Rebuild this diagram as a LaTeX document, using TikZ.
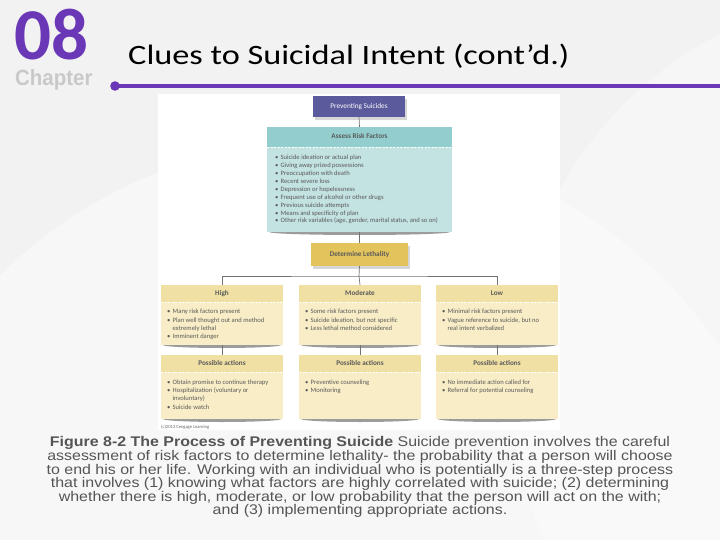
\documentclass[tikz,border=0pt]{standalone}
\usepackage{fontspec}
\setmainfont{Carlito}
\newfontfamily\capfont{Liberation Sans}
\definecolor{bgc}{HTML}{F2F2F2}
\definecolor{purp}{HTML}{6A37B6}
\definecolor{chapg}{HTML}{C9C9C9}
\definecolor{psblue}{HTML}{5A5A9C}
\definecolor{tealH}{HTML}{93CDCD}
\definecolor{tealB}{HTML}{C3E2E2}
\definecolor{goldD}{HTML}{E2C35C}
\definecolor{goldH}{HTML}{F1E0A4}
\definecolor{goldB}{HTML}{F8EDC6}
\definecolor{txt}{HTML}{5A5A5A}
\definecolor{capc}{HTML}{555555}
\newcommand\bi{\makebox[5.5pt][l]{\textbullet}}
\newcommand\bc{\hspace*{5.5pt}}
\tikzset{
  hdr/.style={anchor=north west, inner sep=0, outer sep=0},
  hdrt/.style={inner sep=0, text height=4.9pt, text depth=1.4pt, font=\fontsize{7.2}{8}\selectfont\bfseries, text=txt},
  bdy/.style={anchor=north west, inner sep=0, outer sep=0},
  lst/.style={anchor=north west, inner sep=0, align=left, font=\fontsize{6.6}{8.3}\selectfont, text=txt},
  conn/.style={draw=black!55, line width=0.7pt},
  sep/.style={draw=white, line width=0.6pt, dash pattern=on 2pt off 1.5pt},
}
\newcommand\shad[3]{\fill[black!70, opacity=.55] ({(#1+#2)/2},#3) ellipse ({(#2-#1)/2-2} and 3);}
\begin{document}
\begin{tikzpicture}[x=1pt,y=-1pt]
\fill[bgc] (0,0) rectangle (720,540);
\useasboundingbox (0,0) rectangle (720,540);
% faint template circles
\fill[white, opacity=.45] (330,610) circle (470);
\fill[white, opacity=.35] (900,380) circle (390);
% header
\node[anchor=base west, inner sep=0, font=\fontsize{73}{73}\selectfont\bfseries, text=purp] (num) at (14,60) {08};
\node[anchor=base west, inner sep=0, font=\capfont\fontsize{22}{22}\selectfont\bfseries, text=chapg, xscale=0.93] (chap) at (15,86) {Chapter};
\node[anchor=base west, inner sep=0, font=\fontsize{28}{28}\selectfont, xscale=1.225] (title) at (128,65) {Clues to Suicidal Intent (cont’d.)};
\coordinate (ls) at (115,86);
\coordinate (le) at (720,86);
\draw[purp, line width=3.5pt] (ls) -- (le);
\fill[purp] (ls) circle (4.8);
% white figure area
\fill[white] (158,94) rectangle (560,430);
% Preventing Suicides
\fill[black!40, opacity=.4] (315,99) rectangle (407,120);
\node[bdy, fill=psblue, minimum width=92, minimum height=21] (ps) at (313,96) {};
\node[inner sep=0, text height=4.9pt, text depth=1.4pt, font=\fontsize{7.3}{8}\selectfont, text=white] (pst) at (ps.center) {Preventing Suicides};
% Assess Risk Factors
\shad{267}{452}{232}
\node[hdr, fill=tealH, minimum width=185, minimum height=20] (arfh) at (267,127) {};
\node[hdrt] (arfht) at (arfh.center) {Assess Risk Factors};
\node[bdy, fill=tealB, minimum width=185, minimum height=85] (arfb) at (267,147) {};
\draw[sep] (arfb.north west) -- (arfb.north east);
\node[lst, font=\fontsize{6.6}{7.95}\selectfont] (arft) at (275,154.6) {\bi Suicide ideation or actual plan\\
\bi Giving away prized possessions\\
\bi Preoccupation with death\\
\bi Recent severe loss\\
\bi Depression or hopelessness\\
\bi Frequent use of alcohol or other drugs\\
\bi Previous suicide attempts\\
\bi Means and specificity of plan\\
\bi Other risk variables (age, gender, marital status, and so on)};
% Determine Lethality
\fill[black!40, opacity=.4] (313,246) rectangle (410,269);
\node[bdy, fill=goldD, minimum width=97, minimum height=23] (dl) at (311,243) {};
\node[hdrt] (dlt) at (dl.center) {Determine Lethality};
% level boxes
\foreach \nm/\x/\lab in {hi/161/High, mo/299/Moderate, lo/436/Low}{
  \pgfmathsetmacro\xe{\x+122}
  \shad{\x}{\xe}{345}
  \node[hdr, fill=goldH, minimum width=122, minimum height=17] (\nm-h) at (\x,285) {};
  \node[hdrt] (\nm-ht) at (\nm-h.center) {\lab};
  \node[bdy, fill=goldB, minimum width=122, minimum height=43] (\nm-b) at (\x,302) {};
  \draw[sep] (\nm-b.north west) -- (\nm-b.north east);
  \shad{\x}{\xe}{419}
  \node[hdr, fill=goldH, minimum width=122, minimum height=17] (\nm-a) at (\x,355) {};
  \node[hdrt] (\nm-at) at (\nm-a.center) {Possible actions};
  \node[bdy, fill=goldB, minimum width=122, minimum height=47] (\nm-c) at (\x,372) {};
  \draw[sep] (\nm-c.north west) -- (\nm-c.north east);
}
\node[lst] (hit) at (167,309) {\bi Many risk factors present\\
\bi Plan well thought out and method\\
\bc extremely lethal\\
\bi Imminent danger};
\node[lst] (mot) at (305,309) {\bi Some risk factors present\\
\bi Suicide ideation, but not specific\\
\bi Less lethal method considered};
\node[lst] (lot) at (442,309) {\bi Minimal risk factors present\\
\bi Vague reference to suicide, but no\\
\bc real intent verbalized};
\node[lst] (hia) at (167,379.5) {\bi Obtain promise to continue therapy\\
\bi Hospitalization (voluntary or\\
\bc involuntary)\\
\bi Suicide watch};
\node[lst] (moa) at (305,379.5) {\bi Preventive counseling\\
\bi Monitoring};
\node[lst] (loa) at (442,379.5) {\bi No immediate action called for\\
\bi Referral for potential counseling};
% connectors
\draw[conn] (ps.south) -- (arfh.north);
\draw[conn] (arfb.south) -- (dl.north);
\coordinate (jn) at (359,276);
\draw[conn] (dl.south) -- (jn);
\draw[conn] (hi-h.north) |- (jn) -| (lo-h.north);
\draw[conn] (jn) -- (mo-h.north);
\draw[conn] (hi-b.south) -- (hi-a.north);
\draw[conn] (mo-b.south) -- (mo-a.north);
\draw[conn] (lo-b.south) -- (lo-a.north);
\node[anchor=west, inner sep=0, font=\fontsize{4.6}{5}\selectfont, text=black!60] (copy) at (161,427.5) {(c)2013 Cengage Learning};
% caption
\node[anchor=north, inner sep=0, align=center, text=capc, xscale=1.14, font=\capfont\fontsize{14}{13.6}\selectfont] (cap) at (360,436.5) {\textbf{Figure 8-2 The Process of Preventing Suicide} Suicide prevention involves the careful\\
assessment of risk factors to determine lethality- the probability that a person will choose\\
to end his or her life. Working with an individual who is potentially is a three-step process\\
that involves (1) knowing what factors are highly correlated with suicide; (2) determining\\
whether there is high, moderate, or low probability that the person will act on the with;\\
and (3) implementing appropriate actions.};
\end{tikzpicture}
\end{document}
